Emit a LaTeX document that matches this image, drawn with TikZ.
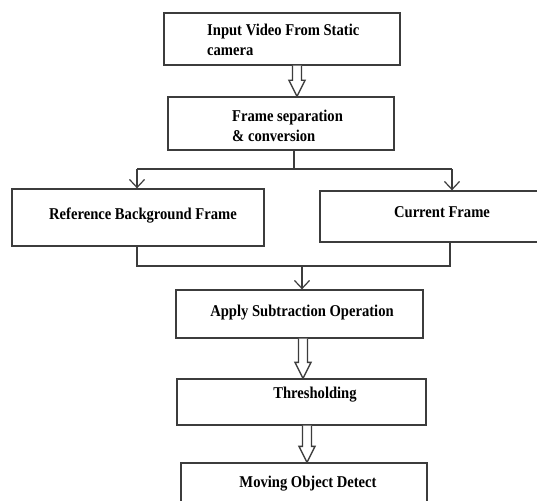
\documentclass[tikz,border=0pt]{standalone}
\usepackage{fontspec}
\setmainfont{Liberation Serif}[FakeStretch=0.885]
\usetikzlibrary{arrows.meta,calc}
\definecolor{linegray}{HTML}{3C3C3C}
\tikzset{
  box/.style={draw=linegray,line width=1.3pt,fill=white,inner sep=0pt},
  lbl/.style={inner sep=0pt,font=\fontsize{16.5}{20}\selectfont\bfseries},
  conn/.style={draw=linegray,line width=1.3pt},
  tip/.style={conn,-{Straight Barb[length=8pt,width=15pt,line width=1.2pt]}}
}
\newcommand\hollowarrow[3]{%
\draw[conn,fill=white] let \p1=(#1.south),\p2=(#2.north) in
(#3pt-4.5pt,\y1)--(#3pt-4.5pt,\y2+16pt)--(#3pt-8pt,\y2+16pt)--(#3pt,\y2)
--(#3pt+8pt,\y2+16pt)--(#3pt+4.5pt,\y2+16pt)--(#3pt+4.5pt,\y1);}
\begin{document}
\begin{tikzpicture}[x=1pt,y=-1pt]
\useasboundingbox[fill=white](0,0)rectangle(537,500);
\clip(0,0)rectangle(537,500);
% boxes
\node[box,minimum width=236,minimum height=52](input)at(282,39){};
\node[box,minimum width=226,minimum height=53](sep)at(281,123.5){};
\node[box,minimum width=252,minimum height=57](ref)at(138,217.5){};
\node[box,minimum width=225,minimum height=51](cur)at(432.5,216.5){};
\node[box,minimum width=247,minimum height=48](sub)at(299.5,314){};
\node[box,minimum width=249,minimum height=46](thr)at(301.5,402){};
\node[box,minimum width=246,minimum height=60](mov)at(304,493){};
% texts
\node[lbl,align=left,anchor=west](inputtxt)at(207,40){Input Video From Static\\camera};
\node[lbl,align=left,anchor=west](septxt)at(232,126){Frame separation\\\& conversion};
\node[lbl](reftxt)at(143,216){Reference Background Frame};
\node[lbl](curtxt)at(442,212){Current Frame};
\node[lbl](subtxt)at(302,313){Apply Subtraction Operation};
\node[lbl](thrtxt)at(315,395){Thresholding};
\node[lbl](movtxt)at(308,484){Moving Object Detect};
% split
\coordinate(split)at(294,169);
\coordinate(splitL)at(137,169);
\coordinate(splitR)at(452,169);
\draw[conn](sep.south-|split)--(split);
\draw[conn](splitL)--(splitR);
\draw[tip](splitL)--(splitL|-ref.north);
\draw[tip](splitR)--(splitR|-cur.north);
% join
\coordinate(join)at(302,266);
\coordinate(joinL)at(137,266);
\coordinate(joinR)at(450,266);
\draw[conn](joinL|-ref.south)--(joinL)--(joinR)--(joinR|-cur.south);
\draw[tip](join)--(join|-sub.north);
% hollow arrows
\hollowarrow{input}{sep}{297}
\hollowarrow{sub}{thr}{303}
\hollowarrow{thr}{mov}{307}
\end{tikzpicture}
\end{document}
